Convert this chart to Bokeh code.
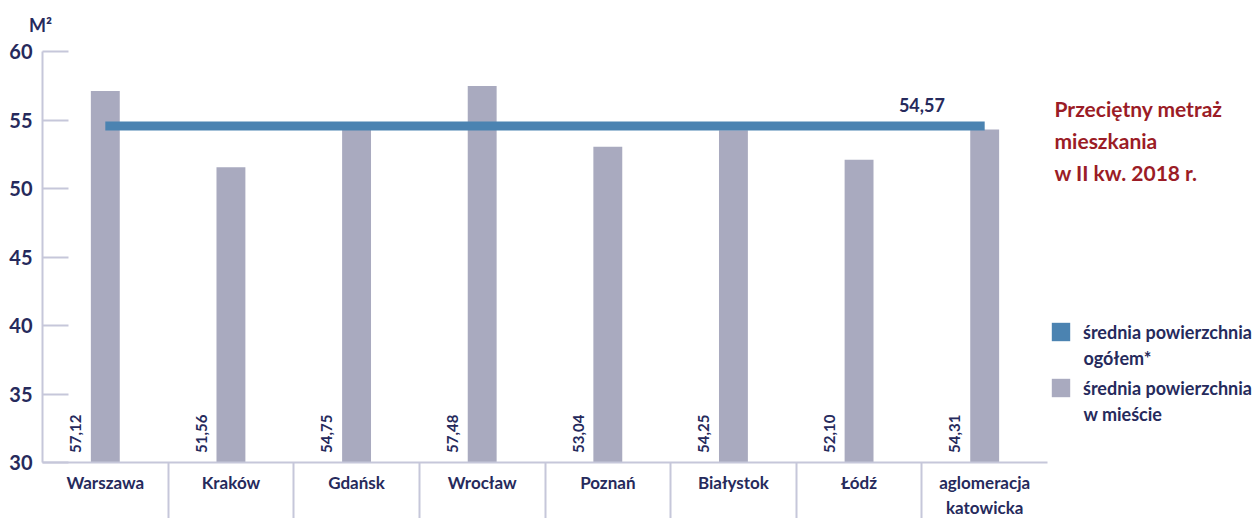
from bokeh.plotting import figure
from bokeh.models import (Range1d, FixedTicker, Label, Legend, LegendItem, ColumnDataSource)
from bokeh.core.properties import value
from bokeh.embed import file_html
from bokeh.resources import INLINE
import math

categories = ["Warszawa", "Kraków", "Gdańsk", "Wrocław", "Poznań", "Białystok", "Łódź", "aglomeracja\nkatowicka"]
city_values = [57.12, 51.56, 54.75, 57.48, 53.04, 54.25, 52.10, 54.31]
average_value = 54.57
y_ticks = [30, 35, 40, 45, 50, 55, 60]
legend_first_lines = ["średnia powierzchnia", "średnia powierzchnia"]
legend_second_lines = ["ogółem*", "w mieście"]
title_lines = ["Przeciętny metraż", "mieszkania", "w II kw. 2018 r."]

def fmt(v):
    return f"{v:.2f}".replace(".", ",")

FONT = "Lato"
NAVY = "#262a5c"
BAR = "#a9aabf"
LINE = "#4b83b1"
AXIS = "#c6c7da"
RED = "#9b1c26"

W, H = 1254, 518
AX_X, AX_Y = 42, 462               # page pixels where the value axis / category axis lie
Y60 = 51                           # page pixel of value 60
AXIS_RIGHT = 1047                  # where the category axis ends

n = len(categories)
centers = [i + 0.5 for i in range(n)]
unit = (AXIS_RIGHT - AX_X) / n     # pixels per category
ppu = (AX_Y - Y60) / 30.0          # pixels per m²

# the frame fills the whole page; axes are pinned at fixed data locations
x_range = Range1d(-AX_X / unit, (W - AX_X) / unit)
y_range = Range1d(30 - (H - AX_Y) / ppu, 60 + Y60 / ppu)

p = figure(width=W, height=H, output_backend="svg", toolbar_location=None,
           x_range=x_range, y_range=y_range,
           min_border_left=0, min_border_right=0, min_border_top=0, min_border_bottom=0)
p.xgrid.visible = False
p.ygrid.visible = False
p.outline_line_color = None
p.background_fill_color = "white"
p.border_fill_color = "white"

src = ColumnDataSource(dict(x=centers, top=city_values,
                            lx=[c - 0.237 for c in centers],
                            ly=[30.7] * n,
                            txt=[fmt(v) for v in city_values]))
bars = p.vbar(x="x", top="top", bottom=30, width=0.23, source=src, fill_color=BAR, line_color=None)
avg_bar = p.rect(x=[(centers[0] + centers[-1]) / 2], y=[average_value], width=[centers[-1] - centers[0]],
                 height=9, height_units="screen", fill_color=LINE, line_color=None)

p.text(x="lx", y="ly", text="txt", source=src, angle=math.pi / 2, text_align="left", text_baseline="middle",
       text_font=value(FONT), text_font_size="15px", text_font_style="bold", text_color=NAVY)
p.text(x=[7.0], y=[average_value + 1.5], text=[fmt(average_value)], text_align="center",
       text_baseline="middle", text_font=value(FONT), text_font_size="18px", text_font_style="bold",
       text_color=NAVY)

# axes
xa = p.xaxis[0]
xa.fixed_location = 30
xa.bounds = (0, n)
xa.ticker = FixedTicker(ticks=centers, minor_ticks=list(range(1, n)))
xa.major_label_overrides = {c: lab for c, lab in zip(centers, categories)}
xa.major_tick_line_color = None
xa.major_tick_out = 0
xa.major_tick_in = 0
xa.minor_tick_in = 0
xa.minor_tick_out = 56
xa.minor_tick_line_color = AXIS
xa.minor_tick_line_width = 2
xa.axis_line_color = AXIS
xa.axis_line_width = 2
xa.major_label_standoff = -47
xa.major_label_text_font = FONT
xa.major_label_text_font_size = "17px"
xa.major_label_text_font_style = "bold"
xa.major_label_text_color = NAVY
xa.major_label_text_line_height = 1.2

ya = p.yaxis[0]
ya.fixed_location = 0
ya.bounds = (30, 60)
ya.ticker = FixedTicker(ticks=y_ticks, minor_ticks=[])
ya.major_tick_in = 26
ya.major_tick_out = 0
ya.major_tick_line_color = AXIS
ya.major_tick_line_width = 2
ya.axis_line_color = AXIS
ya.axis_line_width = 2
ya.major_label_standoff = 10
ya.major_label_text_font = FONT
ya.major_label_text_font_size = "20px"
ya.major_label_text_font_style = "bold"
ya.major_label_text_color = NAVY

def sx(x):
    return x

def sy(y):
    return H - y

# unit label
p.add_layout(Label(x=sx(40), y=sy(24), x_units="screen", y_units="screen", text="M²", text_align="center",
                   text_baseline="middle", text_font=FONT, text_font_size="18px", text_font_style="bold",
                   text_color=NAVY))

# title block
for k, t in enumerate(title_lines):
    p.add_layout(Label(x=sx(1054), y=sy(108 + 31.75 * k), x_units="screen", y_units="screen", text=t,
                       text_align="left", text_baseline="middle", text_font=FONT, text_font_size="21px",
                       text_font_style="bold", text_color=RED))

# legend (first lines in the legend, second lines right under them)
legend = Legend(items=[LegendItem(label=legend_first_lines[0], renderers=[avg_bar]),
                       LegendItem(label=legend_first_lines[1], renderers=[bars])],
                location=(sx(1049), sy(399)), glyph_width=23, glyph_height=23, label_standoff=11,
                label_text_font=FONT, label_text_font_size="18px", label_text_font_style="bold",
                label_text_color=NAVY, spacing=33, padding=0, margin=0,
                border_line_color=None, background_fill_alpha=0)
p.add_layout(legend, "center")
for k, t in enumerate(legend_second_lines):
    p.add_layout(Label(x=sx(1083), y=sy(357.5 + 55.5 * k), x_units="screen", y_units="screen", text=t,
                       text_align="left", text_baseline="middle", text_font=FONT, text_font_size="18px",
                       text_font_style="bold", text_color=NAVY))

open("out.html", "w").write(file_html(p, INLINE))
